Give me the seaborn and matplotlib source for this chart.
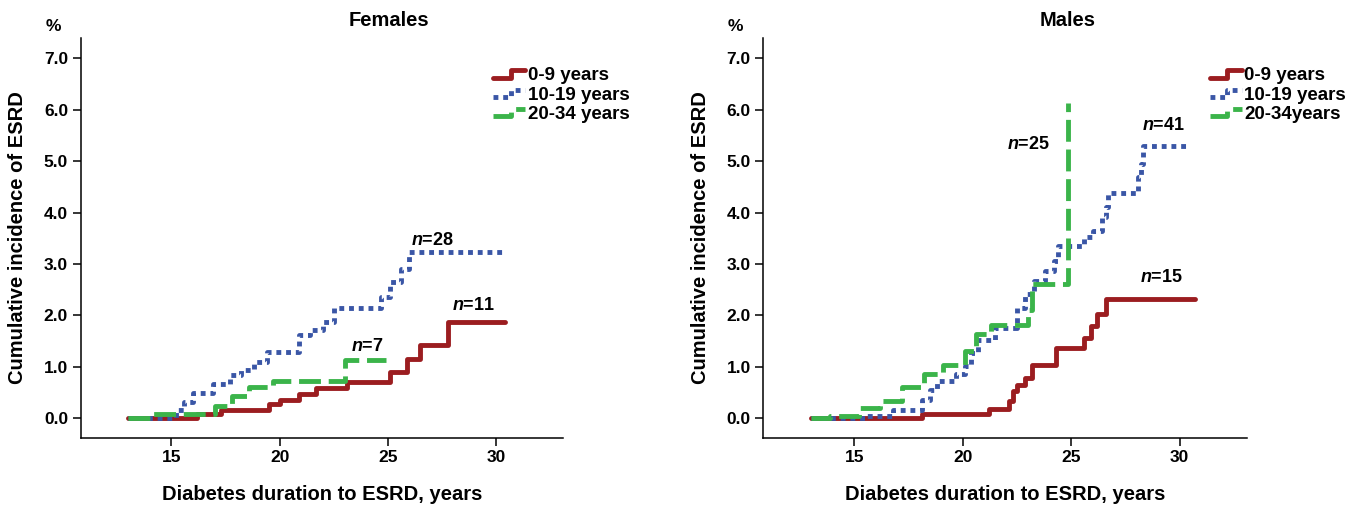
import numpy as np
import pandas as pd
import matplotlib
matplotlib.use("Agg")
import matplotlib.pyplot as plt
import seaborn as sns
from matplotlib.lines import Line2D
from matplotlib.legend_handler import HandlerLine2D

# ==================================================
# DATA
# ==================================================

# Females
f_09_x = [13.0, 16.2, 17.3, 19.5, 20.0, 20.9, 21.7, 23.1, 25.1, 25.9, 26.5, 27.8, 30.4]
f_09_y = [0.0, 0.09, 0.16, 0.27, 0.36, 0.47, 0.58, 0.70, 0.90, 1.15, 1.43, 1.88, 1.88]

f_1019_x = [13.0, 15.2, 15.6, 16.0, 16.9, 17.7, 18.2, 18.8, 19.4, 20.9, 21.4, 22.0,
            22.5, 24.7, 25.1, 25.6, 26.0, 30.4]
f_1019_y = [0.0, 0.16, 0.32, 0.48, 0.66, 0.83, 0.93, 1.09, 1.29, 1.61, 1.71, 1.87,
            2.14, 2.36, 2.65, 2.91, 3.24, 3.24]

f_2034_x = [13.0, 14.1, 17.0, 17.8, 18.6, 19.7, 23.0, 24.9]
f_2034_y = [0.0, 0.09, 0.23, 0.43, 0.61, 0.72, 1.13, 1.13]

# Males
m_09_x = [13.0, 18.1, 21.2, 22.15, 22.3, 22.5, 22.85, 23.2, 24.3, 25.6, 25.9, 26.2, 26.6, 30.7]
m_09_y = [0.0, 0.08, 0.18, 0.33, 0.52, 0.65, 0.78, 1.04, 1.37, 1.56, 1.79, 2.02, 2.31, 2.31]

m_1019_x = [13.0, 15.6, 16.8, 18.1, 18.5, 18.8, 19.7, 20.1, 20.4, 20.7, 21.5, 22.5, 22.85,
            23.3, 23.8, 24.2, 24.4, 25.6, 26.0, 26.4, 26.6, 26.7, 28.1, 28.2, 28.3, 30.4]
m_1019_y = [0.0, 0.05, 0.16, 0.35, 0.55, 0.72, 0.85, 1.01, 1.27, 1.53, 1.76, 2.15, 2.41,
            2.67, 2.87, 3.06, 3.35, 3.52, 3.65, 3.91, 4.10, 4.38, 4.69, 4.95, 5.29, 5.29]

m_2034_x = [13.0, 13.9, 15.2, 16.2, 17.2, 18.2, 19.1, 20.1, 20.6, 21.3, 23.0, 23.2, 24.85]
m_2034_y = [0.0, 0.05, 0.20, 0.34, 0.60, 0.85, 1.04, 1.30, 1.63, 1.81, 2.10, 2.61, 6.13]

labels_f = ["0-9 years", "10-19 years", "20-34 years"]
labels_m = ["0-9 years", "10-19 years", "20-34years"]

n_labels_f = [("28", 27.05, 3.46), ("11", 28.95, 2.20), ("7", 24.05, 1.39)]
n_labels_m = [("25", 23.05, 5.32), ("41", 29.25, 5.70), ("15", 29.15, 2.73)]

y_ticks = [0, 1, 2, 3, 4, 5, 6, 7]
x_ticks = [15, 20, 25, 30]

# ==================================================
# STYLE
# ==================================================

sns.set_style("ticks")
plt.rcParams['font.family'] = ['Liberation Sans', 'DejaVu Sans']
plt.rcParams['font.weight'] = 'bold'
plt.rcParams['mathtext.fontset'] = 'custom'
plt.rcParams['mathtext.it'] = 'Liberation Sans:italic:bold'
plt.rcParams['mathtext.rm'] = 'Liberation Sans:bold'
for key in ['text.color', 'axes.labelcolor', 'xtick.color', 'ytick.color', 'axes.edgecolor']:
    plt.rcParams[key] = 'black'

RED = "#9B1D20"
BLUE = "#3A56A6"
GREEN = "#3BB44A"

styles = [
    dict(color=RED, linestyle="-"),
    dict(color=BLUE, linestyle=(0, (1.0, 1.0))),
    dict(color=GREEN, linestyle=(0, (4.5, 1.6))),
]


class StepHandler(HandlerLine2D):
    def create_artists(self, legend, orig_handle, xdescent, ydescent,
                       width, height, fontsize, trans):
        x0 = -xdescent
        xm = x0 + width * 0.55
        y0 = -ydescent + height * 0.2
        y1 = -ydescent + height * 0.75
        line = Line2D([x0, xm, xm, x0 + width], [y0, y0, y1, y1])
        self.update_prop(line, orig_handle, legend)
        line.set_drawstyle("default")
        line.set_transform(trans)
        return [line]


fig = plt.figure(figsize=(13.54, 5.07), dpi=100)
ax_f = fig.add_axes([0.0595, 0.1367, 0.3564, 0.7878])
ax_m = fig.add_axes([0.5637, 0.1367, 0.3572, 0.7878])

panels = [
    (ax_f, "Females", [(f_09_x, f_09_y), (f_1019_x, f_1019_y), (f_2034_x, f_2034_y)],
     labels_f, n_labels_f, 0.855, 0.639),
    (ax_m, "Males", [(m_09_x, m_09_y), (m_1019_x, m_1019_y), (m_2034_x, m_2034_y)],
     labels_m, n_labels_m, 0.923, 0.629),
]

for ax, title, series, labels, n_labels, leg_x, title_x in panels:
    handles = []
    for (xs, ys), lab, st in zip(series, labels, styles):
        df = pd.DataFrame({"x": xs, "y": ys})
        sns.lineplot(data=df, x="x", y="y", ax=ax, estimator=None, sort=False,
                     drawstyle="steps-post", linewidth=3.5, label=lab, **st)
        handles.append(ax.get_lines()[-1])

    ax.set_xlim(10.8, 33.1)
    ax.set_ylim(-0.38, 7.39)
    ax.set_xticks(x_ticks)
    ax.set_yticks(y_ticks)
    ax.set_yticklabels([f"{v:.1f}" for v in y_ticks])
    ax.tick_params(axis="both", labelsize=12.5, length=6, width=1.1, pad=3,
                   colors="black")
    for lab in ax.get_xticklabels() + ax.get_yticklabels():
        lab.set_fontweight("bold")
    sns.despine(ax=ax)
    for sp in ["left", "bottom"]:
        ax.spines[sp].set_linewidth(1.1)
        ax.spines[sp].set_color("black")

    ax.set_xlabel("Diabetes duration to ESRD, years", fontsize=14.5,
                  fontweight="bold", labelpad=14, color="black")
    ax.set_ylabel("Cumulative incidence of ESRD", fontsize=14.5,
                  fontweight="bold", labelpad=12, color="black")
    ax.text(title_x, 1.0 + (38.3 - 21) / 399.4, title, transform=ax.transAxes,
            ha="center", va="center", fontsize=14.5, fontweight="bold", color="black")
    ax.text(-0.057, 1.0 + (38.3 - 27) / 399.4, "%", transform=ax.transAxes,
            ha="center", va="center", fontsize=12.5, fontweight="bold", color="black")

    for n, xx, yy in n_labels:
        ax.text(xx, yy, "$n$=" + n, ha="center", va="center",
                fontsize=13, fontweight="bold", color="black")

    leg = ax.legend(handles=handles, labels=labels, loc="upper left",
                    bbox_to_anchor=(leg_x, 0.928), frameon=False,
                    handlelength=1.7, handletextpad=0.15, labelspacing=0.12,
                    borderaxespad=0, borderpad=0,
                    handler_map={Line2D: StepHandler()},
                    prop={"weight": "bold", "size": 13.5})
    for t in leg.get_texts():
        t.set_color("black")

fig.savefig("out.png", dpi=100)
